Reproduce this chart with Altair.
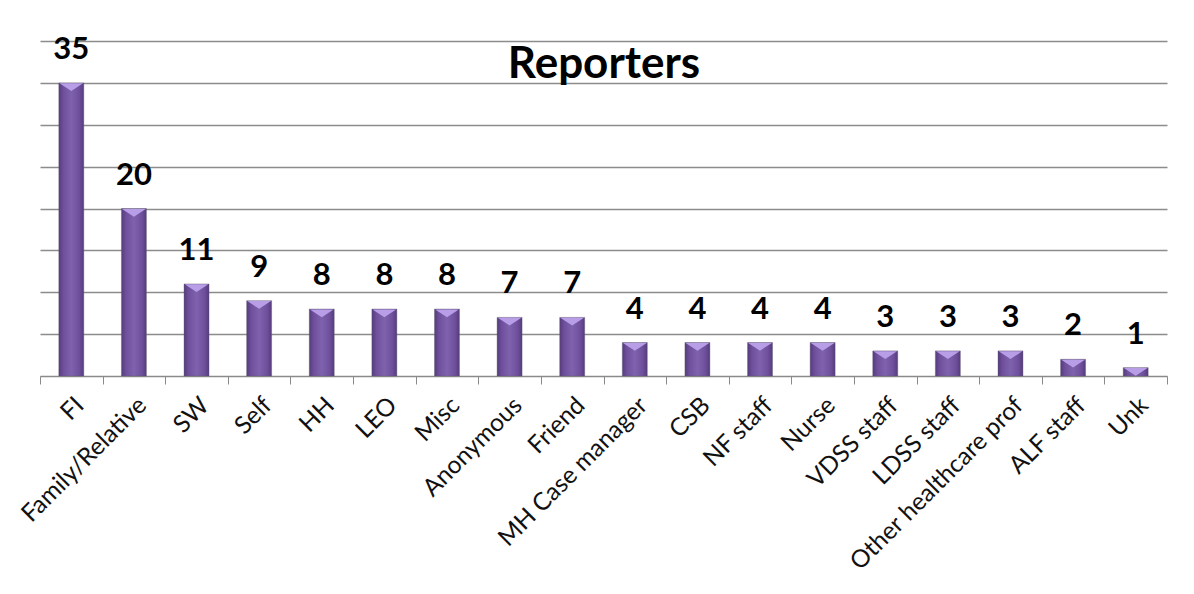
import altair as alt
import pandas as pd

categories = ["FI", "Family/Relative", "SW", "Self", "HH", "LEO", "Misc", "Anonymous",
              "Friend", "MH Case manager", "CSB", "NF staff", "Nurse", "VDSS staff",
              "LDSS staff", "Other healthcare prof", "ALF staff", "Unk"]
counts = [35, 20, 11, 9, 8, 8, 8, 7, 7, 4, 4, 4, 4, 3, 3, 3, 2, 1]
y_ticks = [0, 5, 10, 15, 20, 25, 30, 35, 40]
title_text = "Reporters"

df = pd.DataFrame({"reporter": categories, "count": counts})

FONT = "Lato"

x_enc = alt.X("reporter:N", sort=categories, title=None,
              scale=alt.Scale(paddingInner=0, paddingOuter=0),
              axis=alt.Axis(labelAngle=-45, labelFont=FONT, labelFontSize=24.5,
                            labelColor="#111111", labelPadding=9, labelLimit=0,
                            tickBand="extent", tickSize=8, tickColor="#8a8a8a",
                            domainColor="#8a8a8a", domainWidth=1.2, grid=False,
                            labelOverlap=False))
y_enc = alt.Y("count:Q", title=None,
              scale=alt.Scale(domain=[0, 40], nice=False),
              axis=alt.Axis(values=y_ticks, labels=False, ticks=False, domain=False,
                            grid=True, gridColor="#8c8c8c", gridWidth=1.3))

grad = alt.Gradient(
    gradient="linear", x1=0, x2=1, y1=0, y2=0,
    stops=[alt.GradientStop(offset=0, color="#563b7c"),
           alt.GradientStop(offset=0.18, color="#6e4f9c"),
           alt.GradientStop(offset=0.5, color="#7f62ad"),
           alt.GradientStop(offset=0.82, color="#6e4f9c"),
           alt.GradientStop(offset=1, color="#563b7c")])

base = alt.Chart(df)

bars = base.mark_bar(width=25, fill=grad, stroke="#5a5a6a", strokeWidth=0.6,
                     strokeOpacity=0.6).encode(x=x_enc, y=y_enc)

caps = base.mark_point(shape="M-1,-0.3L1,-0.3L0,0.35Z", size=560, filled=True,
                       color="#b79ee6", opacity=1, yOffset=4).encode(
    x=alt.X("reporter:N", sort=categories), y=alt.Y("count:Q"))

labels = base.mark_text(font=FONT, fontWeight="bold", fontSize=31, color="#000000",
                        baseline="bottom", dy=-17).encode(
    x=alt.X("reporter:N", sort=categories), y=alt.Y("count:Q"),
    text=alt.Text("count:Q"))

title = alt.Chart(pd.DataFrame({"t": [title_text]})).mark_text(
    font=FONT, fontWeight="bold", fontSize=44, color="#000000",
    baseline="alphabetic").encode(
    x=alt.value(564), y=alt.value(37), text="t:N")

chart = alt.layer(bars, caps, labels, title).properties(
    width=1127, height=335,
    autosize=alt.AutoSizeParams(type="none"),
    padding={"left": 32, "top": 33, "right": 10, "bottom": 200},
).configure(background="white", view=alt.ViewConfig(stroke=None))

chart.save("out.html", embed_options={"renderer": "svg", "actions": False})
